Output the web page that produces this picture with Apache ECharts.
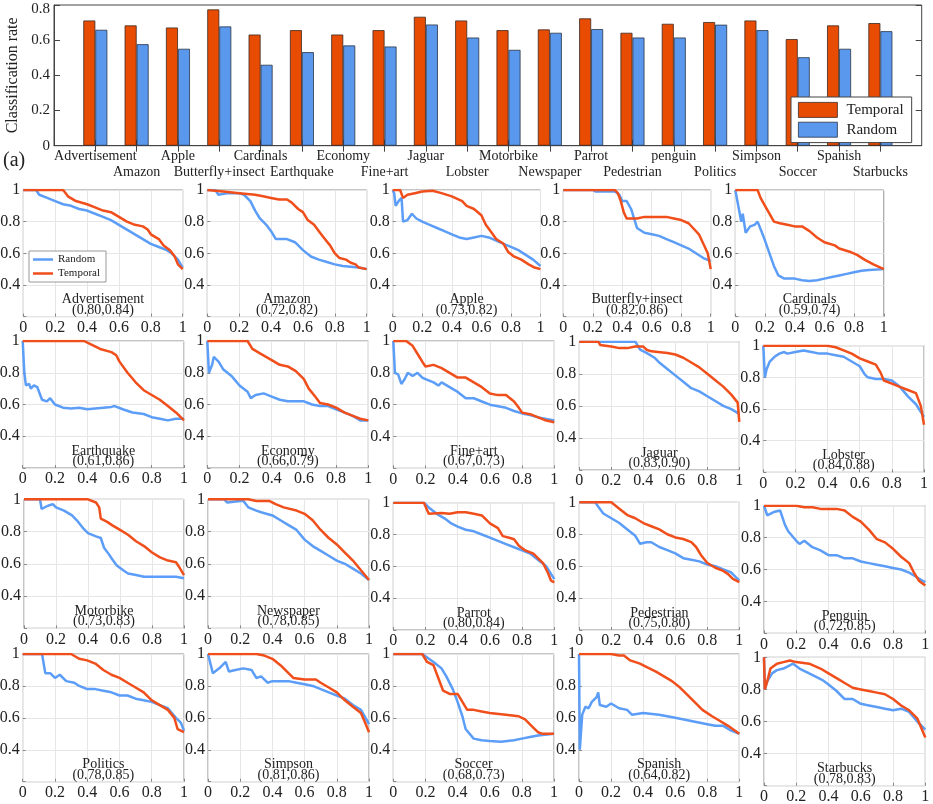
<!DOCTYPE html>
<html>
<head>
<meta charset="utf-8">
<script src="https://cdn.jsdelivr.net/npm/echarts@6/dist/echarts.min.js"></script>
<style>
html,body{margin:0;padding:0;background:#fff}
#chart{width:933px;height:804px}
</style>
</head>
<body>
<div id="chart"></div>
<script>
// ---- (a) classification rate per query ----
const categories = ['Advertisement','Amazon','Apple','Butterfly+insect','Cardinals','Earthquake','Economy','Fine+art','Jaguar','Lobster',
  'Motorbike','Newspaper','Parrot','Pedestrian','penguin','Politics','Simpson','Soccer','Spanish','Starbucks'];
const temporalRate = [0.712,0.684,0.672,0.775,0.632,0.657,0.632,0.657,0.733,0.712,0.657,0.661,0.724,0.642,0.693,0.703,0.712,0.606,0.684,0.697];
const randomRate   = [0.659,0.577,0.551,0.678,0.460,0.532,0.570,0.564,0.689,0.615,0.545,0.642,0.663,0.615,0.615,0.688,0.657,0.503,0.551,0.651];

// ---- per-query curves ----
const panelNames = ['Advertisement','Amazon','Apple','Butterfly+insect','Cardinals','Earthquake','Economy','Fine+art','Jaguar','Lobster',
  'Motorbike','Newspaper','Parrot','Pedestrian','Penguin','Politics','Simpson','Soccer','Spanish','Starbucks'];
const panelScores = ['(0.80,0.84)','(0.72,0.82)','(0.73,0.82)','(0.82,0.86)','(0.59,0.74)','(0.61,0.86)','(0.66,0.79)','(0.67,0.73)','(0.83,0.90)','(0.84,0.88)',
  '(0.73,0.83)','(0.78,0.85)','(0.80,0.84)','(0.75,0.80)','(0.72,0.85)','(0.78,0.85)','(0.81,0.86)','(0.68,0.73)','(0.64,0.82)','(0.78,0.83)'];

const randomCurves = [
  [[0,1],[0.08,1],[0.1,0.97],[0.15,0.95],[0.2,0.93],[0.25,0.91],[0.3,0.9],[0.35,0.88],[0.4,0.87],[0.45,0.85],[0.5,0.83],[0.55,0.81],[0.6,0.78],[0.65,0.75],[0.7,0.72],[0.75,0.69],[0.8,0.66],[0.85,0.64],[0.9,0.62],[0.93,0.6],[0.97,0.56],[1,0.51]],
  [[0,1],[0.05,1],[0.07,0.97],[0.12,0.98],[0.2,0.98],[0.23,0.97],[0.27,0.93],[0.3,0.87],[0.33,0.82],[0.37,0.78],[0.4,0.74],[0.43,0.69],[0.5,0.69],[0.55,0.67],[0.6,0.62],[0.65,0.58],[0.7,0.56],[0.75,0.545],[0.8,0.53],[0.85,0.52],[0.9,0.515],[0.95,0.51],[1,0.5]],
  [[0,1],[0.01,0.98],[0.02,0.9],[0.04,0.93],[0.06,0.95],[0.07,0.8],[0.1,0.81],[0.13,0.85],[0.16,0.82],[0.2,0.8],[0.25,0.78],[0.3,0.76],[0.35,0.74],[0.4,0.72],[0.45,0.7],[0.5,0.69],[0.55,0.7],[0.6,0.71],[0.65,0.7],[0.7,0.68],[0.75,0.66],[0.8,0.64],[0.85,0.62],[0.9,0.59],[0.95,0.56],[1,0.52]],
  [[0,1],[0.2,1],[0.22,0.99],[0.35,0.99],[0.38,0.97],[0.4,0.93],[0.43,0.93],[0.46,0.88],[0.48,0.82],[0.5,0.76],[0.55,0.73],[0.6,0.72],[0.65,0.71],[0.7,0.69],[0.75,0.67],[0.8,0.65],[0.85,0.63],[0.9,0.6],[0.95,0.57],[1,0.55]],
  [[0,1],[0.02,0.9],[0.04,0.8],[0.05,0.85],[0.07,0.73],[0.1,0.77],[0.13,0.78],[0.15,0.8],[0.18,0.73],[0.2,0.68],[0.23,0.6],[0.26,0.52],[0.29,0.46],[0.33,0.44],[0.4,0.44],[0.45,0.43],[0.5,0.425],[0.55,0.43],[0.6,0.44],[0.65,0.45],[0.7,0.46],[0.75,0.47],[0.8,0.48],[0.85,0.49],[0.9,0.495],[1,0.5]],
  [[0,1],[0.01,0.8],[0.02,0.72],[0.04,0.73],[0.05,0.7],[0.07,0.72],[0.09,0.71],[0.1,0.72],[0.12,0.63],[0.15,0.62],[0.17,0.64],[0.2,0.6],[0.25,0.58],[0.3,0.575],[0.35,0.58],[0.4,0.57],[0.45,0.575],[0.5,0.58],[0.55,0.585],[0.57,0.59],[0.62,0.57],[0.68,0.55],[0.75,0.54],[0.8,0.52],[0.85,0.51],[0.9,0.5],[0.95,0.51],[1,0.51]],
  [[0,1],[0.01,0.8],[0.03,0.85],[0.04,0.9],[0.07,0.87],[0.1,0.82],[0.15,0.78],[0.2,0.72],[0.25,0.68],[0.27,0.64],[0.3,0.66],[0.35,0.67],[0.4,0.65],[0.45,0.63],[0.5,0.62],[0.6,0.62],[0.65,0.6],[0.7,0.59],[0.75,0.59],[0.8,0.57],[0.85,0.55],[0.9,0.53],[0.95,0.5],[1,0.5]],
  [[0,1],[0.01,0.8],[0.03,0.79],[0.05,0.73],[0.07,0.76],[0.09,0.8],[0.12,0.78],[0.15,0.8],[0.18,0.77],[0.2,0.76],[0.25,0.74],[0.28,0.72],[0.3,0.74],[0.35,0.71],[0.4,0.68],[0.45,0.64],[0.5,0.64],[0.55,0.62],[0.6,0.6],[0.65,0.59],[0.7,0.58],[0.75,0.56],[0.8,0.545],[0.85,0.535],[0.9,0.52],[0.95,0.51],[1,0.5]],
  [[0,1],[0.35,1],[0.38,0.95],[0.42,0.93],[0.47,0.9],[0.5,0.87],[0.55,0.83],[0.6,0.79],[0.65,0.75],[0.7,0.71],[0.75,0.69],[0.8,0.66],[0.85,0.63],[0.9,0.6],[0.95,0.58],[1,0.55]],
  [[0,1],[0.01,0.8],[0.02,0.85],[0.04,0.9],[0.07,0.93],[0.1,0.95],[0.13,0.96],[0.15,0.95],[0.2,0.96],[0.25,0.97],[0.3,0.96],[0.35,0.95],[0.4,0.95],[0.45,0.94],[0.5,0.93],[0.55,0.9],[0.6,0.87],[0.63,0.82],[0.65,0.8],[0.7,0.79],[0.75,0.79],[0.8,0.78],[0.85,0.74],[0.9,0.68],[0.95,0.63],[1,0.55]],
  [[0,1],[0.1,1],[0.11,0.94],[0.15,0.96],[0.18,0.97],[0.2,0.95],[0.25,0.93],[0.3,0.9],[0.33,0.87],[0.37,0.82],[0.4,0.79],[0.45,0.77],[0.48,0.76],[0.5,0.7],[0.53,0.66],[0.55,0.63],[0.58,0.59],[0.62,0.56],[0.65,0.54],[0.7,0.53],[0.75,0.52],[0.85,0.52],[0.9,0.52],[0.95,0.52],[1,0.51]],
  [[0,1],[0.1,1],[0.12,0.98],[0.2,0.99],[0.22,0.99],[0.25,0.95],[0.3,0.93],[0.33,0.92],[0.4,0.9],[0.45,0.87],[0.5,0.84],[0.55,0.81],[0.6,0.75],[0.65,0.71],[0.7,0.68],[0.75,0.65],[0.8,0.62],[0.85,0.6],[0.9,0.57],[0.95,0.54],[1,0.5]],
  [[0,1],[0.19,1],[0.22,0.97],[0.27,0.93],[0.32,0.9],[0.36,0.87],[0.4,0.85],[0.45,0.83],[0.5,0.82],[0.55,0.8],[0.6,0.78],[0.65,0.76],[0.7,0.74],[0.75,0.72],[0.8,0.7],[0.85,0.68],[0.9,0.64],[0.95,0.6],[1,0.52]],
  [[0,1],[0.1,1],[0.12,0.97],[0.15,0.93],[0.2,0.9],[0.25,0.87],[0.3,0.83],[0.35,0.79],[0.38,0.74],[0.42,0.75],[0.45,0.75],[0.5,0.72],[0.55,0.7],[0.6,0.68],[0.65,0.65],[0.7,0.64],[0.75,0.63],[0.8,0.61],[0.85,0.6],[0.9,0.58],[0.95,0.56],[1,0.51]],
  [[0,1],[0.02,0.94],[0.06,0.96],[0.1,0.97],[0.13,0.88],[0.15,0.84],[0.2,0.78],[0.22,0.76],[0.25,0.78],[0.3,0.74],[0.35,0.72],[0.4,0.69],[0.45,0.69],[0.5,0.67],[0.55,0.67],[0.6,0.65],[0.65,0.64],[0.7,0.63],[0.75,0.62],[0.8,0.61],[0.85,0.6],[0.9,0.58],[0.95,0.55],[1,0.52]],
  [[0,1],[0.12,1],[0.14,0.88],[0.17,0.88],[0.2,0.85],[0.23,0.87],[0.27,0.83],[0.32,0.82],[0.35,0.8],[0.4,0.78],[0.45,0.78],[0.5,0.77],[0.55,0.76],[0.6,0.74],[0.65,0.74],[0.7,0.72],[0.75,0.71],[0.8,0.7],[0.85,0.68],[0.9,0.66],[0.95,0.6],[0.98,0.57],[1,0.52]],
  [[0,1],[0.03,0.88],[0.07,0.91],[0.11,0.95],[0.13,0.89],[0.17,0.9],[0.22,0.91],[0.27,0.9],[0.3,0.85],[0.33,0.86],[0.37,0.82],[0.4,0.83],[0.5,0.83],[0.55,0.82],[0.6,0.81],[0.65,0.8],[0.7,0.78],[0.75,0.76],[0.8,0.74],[0.85,0.72],[0.9,0.68],[0.95,0.65],[1,0.56]],
  [[0,1],[0.18,1],[0.25,0.95],[0.3,0.91],[0.33,0.86],[0.37,0.78],[0.4,0.7],[0.43,0.61],[0.45,0.53],[0.5,0.47],[0.55,0.46],[0.6,0.455],[0.67,0.45],[0.75,0.46],[0.8,0.47],[0.85,0.48],[0.9,0.49],[1,0.5]],
  [[0,1],[0.005,0.4],[0.02,0.62],[0.04,0.67],[0.06,0.66],[0.08,0.7],[0.11,0.73],[0.12,0.76],[0.13,0.68],[0.17,0.67],[0.2,0.69],[0.25,0.66],[0.3,0.65],[0.33,0.62],[0.4,0.63],[0.5,0.62],[0.55,0.61],[0.6,0.6],[0.7,0.58],[0.8,0.56],[0.85,0.55],[0.9,0.55],[0.95,0.52],[1,0.5]],
  [[0,1],[0.005,0.8],[0.02,0.85],[0.05,0.9],[0.08,0.92],[0.12,0.93],[0.16,0.95],[0.18,0.96],[0.22,0.93],[0.28,0.9],[0.32,0.88],[0.36,0.86],[0.4,0.83],[0.45,0.79],[0.5,0.74],[0.55,0.74],[0.6,0.71],[0.65,0.7],[0.7,0.69],[0.75,0.68],[0.8,0.67],[0.85,0.68],[0.9,0.66],[0.95,0.6],[1,0.55]]
];

const temporalCurves = [
  [[0,1],[0.25,1],[0.28,0.96],[0.33,0.93],[0.4,0.91],[0.45,0.89],[0.5,0.87],[0.55,0.86],[0.6,0.83],[0.65,0.8],[0.7,0.78],[0.75,0.77],[0.78,0.75],[0.8,0.72],[0.85,0.69],[0.88,0.65],[0.92,0.62],[0.95,0.58],[0.97,0.53],[1,0.5]],
  [[0,1],[0.1,0.99],[0.2,0.98],[0.3,0.97],[0.35,0.96],[0.4,0.95],[0.45,0.94],[0.5,0.94],[0.53,0.92],[0.57,0.88],[0.6,0.86],[0.63,0.81],[0.67,0.78],[0.7,0.74],[0.73,0.7],[0.77,0.65],[0.8,0.6],[0.83,0.57],[0.87,0.56],[0.9,0.54],[0.93,0.53],[0.95,0.51],[1,0.5]],
  [[0,1],[0.05,1],[0.07,0.95],[0.1,0.97],[0.15,0.98],[0.2,0.99],[0.27,0.995],[0.33,0.98],[0.4,0.96],[0.47,0.93],[0.5,0.9],[0.55,0.88],[0.6,0.84],[0.63,0.78],[0.67,0.73],[0.7,0.69],[0.75,0.66],[0.78,0.61],[0.82,0.58],[0.87,0.56],[0.92,0.53],[0.96,0.51],[1,0.5]],
  [[0,1],[0.35,1],[0.37,0.98],[0.39,0.93],[0.41,0.86],[0.43,0.82],[0.5,0.82],[0.55,0.83],[0.6,0.83],[0.7,0.83],[0.75,0.82],[0.8,0.81],[0.85,0.79],[0.88,0.76],[0.92,0.72],[0.95,0.66],[0.98,0.6],[1,0.5]],
  [[0,1],[0.15,1],[0.17,0.95],[0.2,0.9],[0.23,0.85],[0.26,0.8],[0.3,0.79],[0.35,0.78],[0.4,0.77],[0.45,0.77],[0.5,0.74],[0.55,0.7],[0.6,0.67],[0.67,0.65],[0.7,0.63],[0.77,0.61],[0.82,0.59],[0.87,0.56],[0.93,0.53],[1,0.5]],
  [[0,1],[0.38,1],[0.42,0.98],[0.48,0.95],[0.55,0.93],[0.58,0.91],[0.6,0.87],[0.65,0.8],[0.7,0.74],[0.75,0.69],[0.8,0.66],[0.85,0.63],[0.9,0.59],[0.95,0.55],[1,0.5]],
  [[0,1],[0.25,1],[0.28,0.95],[0.33,0.92],[0.4,0.88],[0.45,0.85],[0.5,0.84],[0.55,0.81],[0.6,0.76],[0.63,0.7],[0.67,0.65],[0.7,0.61],[0.75,0.6],[0.8,0.58],[0.85,0.55],[0.9,0.53],[0.95,0.51],[1,0.5]],
  [[0,1],[0.08,1],[0.12,0.97],[0.15,0.92],[0.18,0.87],[0.2,0.84],[0.25,0.85],[0.3,0.83],[0.35,0.8],[0.4,0.77],[0.45,0.77],[0.5,0.74],[0.55,0.71],[0.6,0.67],[0.65,0.66],[0.7,0.66],[0.75,0.62],[0.78,0.58],[0.8,0.55],[0.85,0.54],[0.9,0.52],[0.95,0.5],[1,0.49]],
  [[0,1],[0.12,1],[0.13,0.98],[0.2,0.97],[0.25,0.96],[0.3,0.96],[0.35,0.97],[0.4,0.97],[0.42,0.95],[0.45,0.94],[0.55,0.93],[0.6,0.92],[0.65,0.9],[0.7,0.87],[0.75,0.84],[0.8,0.8],[0.85,0.76],[0.9,0.72],[0.95,0.67],[0.99,0.62],[1,0.5]],
  [[0,1],[0.4,1],[0.45,0.99],[0.5,0.97],[0.55,0.95],[0.6,0.92],[0.65,0.9],[0.7,0.88],[0.73,0.83],[0.75,0.78],[0.8,0.76],[0.85,0.74],[0.9,0.72],[0.95,0.7],[0.98,0.62],[1,0.5]],
  [[0,1],[0.4,1],[0.45,0.98],[0.47,0.95],[0.48,0.88],[0.52,0.86],[0.55,0.84],[0.6,0.81],[0.65,0.78],[0.7,0.74],[0.75,0.71],[0.8,0.67],[0.85,0.64],[0.9,0.62],[0.95,0.61],[0.97,0.58],[1,0.53]],
  [[0,1],[0.25,1],[0.3,0.99],[0.38,0.99],[0.42,0.97],[0.47,0.95],[0.55,0.93],[0.6,0.91],[0.65,0.87],[0.7,0.81],[0.75,0.76],[0.8,0.72],[0.85,0.67],[0.9,0.62],[0.95,0.56],[1,0.5]],
  [[0,1],[0.19,1],[0.22,0.93],[0.3,0.935],[0.35,0.93],[0.4,0.94],[0.45,0.94],[0.5,0.93],[0.55,0.92],[0.6,0.87],[0.65,0.84],[0.68,0.79],[0.72,0.78],[0.75,0.77],[0.78,0.73],[0.82,0.7],[0.87,0.68],[0.9,0.65],[0.93,0.62],[0.96,0.56],[0.98,0.51],[1,0.5]],
  [[0,1],[0.2,1],[0.25,0.96],[0.3,0.92],[0.35,0.9],[0.4,0.87],[0.45,0.85],[0.5,0.83],[0.55,0.8],[0.6,0.78],[0.65,0.77],[0.7,0.75],[0.73,0.72],[0.76,0.67],[0.8,0.62],[0.85,0.59],[0.9,0.57],[0.93,0.55],[0.96,0.52],[1,0.5]],
  [[0,1],[0.2,1],[0.25,0.99],[0.3,0.99],[0.35,0.98],[0.45,0.98],[0.5,0.97],[0.55,0.93],[0.6,0.9],[0.65,0.85],[0.7,0.79],[0.75,0.77],[0.8,0.73],[0.85,0.68],[0.9,0.64],[0.93,0.58],[0.96,0.53],[1,0.5]],
  [[0,1],[0.3,1],[0.35,0.97],[0.4,0.96],[0.45,0.94],[0.5,0.9],[0.55,0.87],[0.6,0.85],[0.65,0.82],[0.7,0.79],[0.75,0.76],[0.8,0.71],[0.85,0.68],[0.9,0.65],[0.94,0.6],[0.96,0.53],[1,0.51]],
  [[0,1],[0.3,1],[0.35,0.99],[0.4,0.97],[0.45,0.93],[0.5,0.88],[0.53,0.85],[0.6,0.84],[0.67,0.84],[0.7,0.82],[0.75,0.79],[0.8,0.76],[0.85,0.71],[0.9,0.67],[0.95,0.63],[0.98,0.56],[1,0.51]],
  [[0,1],[0.18,1],[0.21,0.95],[0.25,0.93],[0.28,0.85],[0.31,0.77],[0.35,0.75],[0.4,0.75],[0.43,0.7],[0.46,0.65],[0.5,0.65],[0.55,0.64],[0.6,0.63],[0.7,0.62],[0.78,0.61],[0.82,0.59],[0.86,0.55],[0.9,0.51],[0.93,0.5],[1,0.5]],
  [[0,1],[0.2,1],[0.25,0.99],[0.28,0.99],[0.32,0.96],[0.38,0.94],[0.42,0.92],[0.48,0.89],[0.53,0.86],[0.58,0.83],[0.63,0.79],[0.67,0.75],[0.72,0.7],[0.77,0.65],[0.83,0.61],[0.88,0.58],[0.93,0.55],[1,0.5]],
  [[0,1],[0.005,0.8],[0.02,0.85],[0.04,0.93],[0.08,0.96],[0.12,0.97],[0.16,0.98],[0.2,0.97],[0.28,0.96],[0.35,0.93],[0.4,0.9],[0.45,0.87],[0.5,0.84],[0.55,0.81],[0.6,0.8],[0.65,0.79],[0.7,0.78],[0.75,0.77],[0.8,0.74],[0.85,0.7],[0.9,0.67],[0.95,0.62],[1,0.5]]
];

// ---- layout: plot boxes of the small panels, [left, top, right, bottom] in px ----
const panelBoxes = [
  [23.3,190,182.7,316.6],[207.3,190,366.7,316.6],[392.7,190,540.5,316.6],[563.3,190,710.7,316.6],[735.3,190,883.8,316.6],
  [22.7,341,184,468],[207.3,341,368.3,468],[393.3,341,554.3,468.3],[579.3,341.7,739.3,470],[763.3,345.7,924,472.3],
  [24,499.3,184,628.3],[208,499.3,369,628.3],[393.3,502.7,554.3,630],[579.3,502.3,739.3,630],[764,505.7,925.3,633.3],
  [22.7,654,184,781.7],[208,654,369,781.7],[393.3,654,554,781.7],[579,654,739.3,781.7],[764,657.3,925.3,785.7]
];

const SERIF = '"Liberation Serif", "DejaVu Serif", serif';
const TEXT = '#222';
const BAR_ORANGE = '#E84B02', BAR_BLUE = '#5A98EE';
const LINE_ORANGE = '#F04E1A', LINE_BLUE = '#5C9DF7';

const grids = [], xAxes = [], yAxes = [], series = [], graphics = [];

// bar chart
const padded = [''].concat(categories, ['']);
const tickOn = (i) => i > 0 && i < padded.length - 1;
grids.push({left: 54, top: 5, width: 867.7, height: 140.7, show: true, borderColor: '#444', borderWidth: 1, outerBoundsMode: 'none'});
xAxes.push({
  gridIndex: 0, type: 'category', data: padded, boundaryGap: false,
  axisLine: {show: true, lineStyle: {color: '#444'}},
  axisTick: {show: true, inside: true, length: 6, interval: tickOn, lineStyle: {color: '#444'}},
  axisLabel: {interval: 0, margin: 3, fontFamily: SERIF, fontSize: 14, lineHeight: 16, color: TEXT,
    formatter: (v, i) => (i % 2 === 1 ? v : '\n' + v)},
  splitLine: {show: false}
});
xAxes.push({
  gridIndex: 0, type: 'category', position: 'top', data: padded, boundaryGap: false,
  axisLine: {show: false},
  axisTick: {show: true, inside: true, length: 6, interval: tickOn, lineStyle: {color: '#444'}},
  axisLabel: {show: false}, splitLine: {show: false}
});
yAxes.push({
  gridIndex: 0, type: 'value', min: 0, max: 0.8, interval: 0.2,
  name: 'Classification rate', nameLocation: 'middle', nameGap: 30,
  nameTextStyle: {fontFamily: SERIF, fontSize: 16, color: TEXT},
  axisLine: {show: true, lineStyle: {color: '#444'}},
  axisTick: {show: true, inside: true, length: 6, lineStyle: {color: '#444'}},
  axisLabel: {margin: 4, fontFamily: SERIF, fontSize: 15, color: TEXT,
    // the top label sits just under the frame edge
    formatter: (v) => (v > 0.79 ? '{top|0.8}' : String(Math.round(v * 10) / 10)),
    rich: {top: {fontFamily: SERIF, fontSize: 15, color: TEXT, padding: [8, 0, 0, 0]}}},
  splitLine: {show: false}
});
yAxes.push({
  gridIndex: 0, type: 'value', position: 'right', min: 0, max: 0.8, interval: 0.2,
  axisLine: {show: false},
  axisTick: {show: true, inside: true, length: 6, lineStyle: {color: '#444'}},
  axisLabel: {show: false}, splitLine: {show: false}
});
series.push({
  type: 'bar', name: 'Temporal', xAxisIndex: 0, yAxisIndex: 0,
  data: [null].concat(temporalRate, [null]), barWidth: 12, barGap: '0%',
  itemStyle: {color: BAR_ORANGE, borderColor: '#3b2a22', borderWidth: 0.8}
});
series.push({
  type: 'bar', name: 'Random', xAxisIndex: 0, yAxisIndex: 0,
  data: [null].concat(randomRate, [null]), barWidth: 12, barGap: '0%',
  itemStyle: {color: BAR_BLUE, borderColor: '#2a3444', borderWidth: 0.8}
});

// small panels
panelBoxes.forEach((b, p) => {
  const gi = p + 1;
  grids.push({left: b[0], top: b[1], width: b[2] - b[0], height: b[3] - b[1],
    show: true, borderColor: '#8a8a8a', borderWidth: 1, outerBoundsMode: 'none'});
  xAxes.push({
    gridIndex: gi, type: 'value', min: 0, max: 1, interval: 0.2,
    axisLine: {show: false},
    axisTick: {show: true, inside: true, length: 3, lineStyle: {color: '#888'}},
    axisLabel: {margin: 3, fontFamily: SERIF, fontSize: 16, color: TEXT},
    splitLine: {show: true, lineStyle: {color: '#e6e6e6', width: 1}}
  });
  yAxes.push({
    gridIndex: gi, type: 'value', min: 0.2, max: 1, interval: 0.2,
    axisLine: {show: false},
    axisTick: {show: true, inside: true, length: 3, lineStyle: {color: '#888'}},
    axisLabel: {margin: 3, fontFamily: SERIF, fontSize: 16, color: TEXT,
      formatter: (v) => (v < 0.3 ? '' : String(Math.round(v * 10) / 10))},
    splitLine: {show: true, lineStyle: {color: '#e6e6e6', width: 1}}
  });
  series.push({
    type: 'line', name: 'Random', xAxisIndex: 2 + p, yAxisIndex: 2 + p,
    data: randomCurves[p], showSymbol: false, symbol: 'none',
    lineStyle: {color: LINE_BLUE, width: 2.5}, itemStyle: {color: LINE_BLUE}, z: 3
  });
  series.push({
    type: 'line', name: 'Temporal', xAxisIndex: 2 + p, yAxisIndex: 2 + p,
    data: temporalCurves[p], showSymbol: false, symbol: 'none',
    lineStyle: {color: LINE_ORANGE, width: 2.5}, itemStyle: {color: LINE_ORANGE}, z: 4
  });
  const cx = (b[0] + b[2]) / 2;
  graphics.push({type: 'text', x: cx, y: b[3] - 17, z: 10,
    style: {text: panelNames[p], font: '14px ' + SERIF, fill: TEXT,
      align: 'center', verticalAlign: 'middle', textAlign: 'center', textVerticalAlign: 'middle'}});
  graphics.push({type: 'text', x: cx, y: b[3] - 6.5, z: 10,
    style: {text: panelScores[p], font: '14px ' + SERIF, fill: TEXT,
      align: 'center', verticalAlign: 'middle', textAlign: 'center', textVerticalAlign: 'middle'}});
});

graphics.push({type: 'text', x: 3, y: 161, z: 10,
  style: {text: '(a)', font: '20px ' + SERIF, fill: TEXT,
    align: 'left', verticalAlign: 'middle', textAlign: 'left', textVerticalAlign: 'middle'}});

const option = {
  animation: false,
  backgroundColor: '#fff',
  grid: grids,
  xAxis: xAxes,
  yAxis: yAxes,
  series: series,
  graphic: graphics,
  legend: [
    {
      orient: 'vertical', left: 791, top: 97,
      padding: [5, 8, 5, 7], itemGap: 4, itemWidth: 39, itemHeight: 15,
      borderColor: '#444', borderWidth: 1, backgroundColor: '#fff',
      textStyle: {fontFamily: SERIF, fontSize: 15, color: TEXT, padding: [0, 0, 0, 4]},
      data: [
        {name: 'Temporal', icon: 'rect', itemStyle: {color: BAR_ORANGE, borderColor: '#3b2a22', borderWidth: 0.8}},
        {name: 'Random', icon: 'rect', itemStyle: {color: BAR_BLUE, borderColor: '#2a3444', borderWidth: 0.8}}
      ]
    },
    {
      orient: 'vertical', left: 29, top: 251,
      padding: [3, 6, 3, 4], itemGap: 3, itemWidth: 20, itemHeight: 2.5,
      borderColor: '#999', borderWidth: 1, backgroundColor: '#fff',
      textStyle: {fontFamily: SERIF, fontSize: 11, color: TEXT},
      data: [
        {name: 'Random', icon: 'rect', itemStyle: {color: LINE_BLUE, borderWidth: 0}},
        {name: 'Temporal', icon: 'rect', itemStyle: {color: LINE_ORANGE, borderWidth: 0}}
      ]
    }
  ]
};

const chart = echarts.init(document.getElementById('chart'), null, {renderer: 'canvas'});
chart.setOption(option);
</script>
</body>
</html>
